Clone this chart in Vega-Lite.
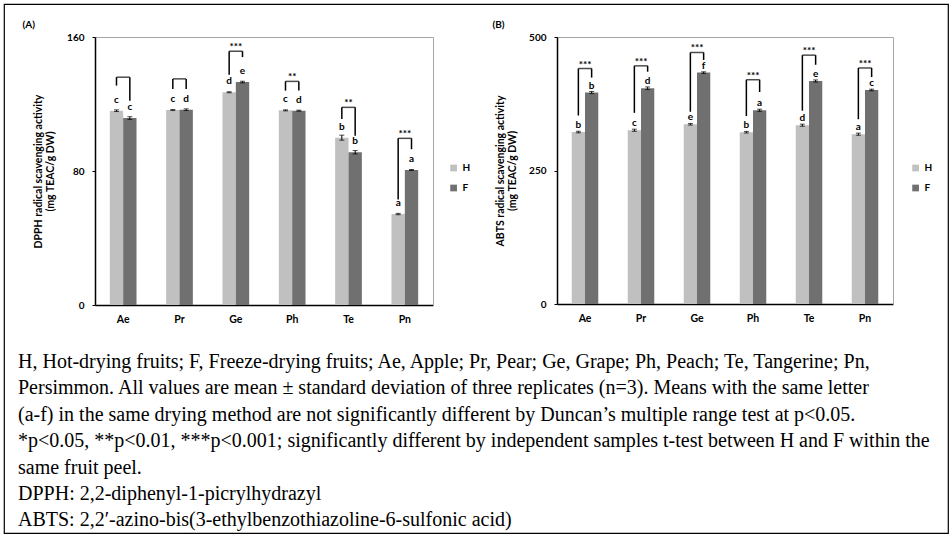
{
  "$schema": "https://vega.github.io/schema/vega-lite/v6.json",
  "width": 944,
  "height": 529,
  "autosize": {"type": "none"},
  "padding": {"left": 4, "top": 4, "right": 4, "bottom": 6},
  "background": "white",
  "view": {"stroke": "black", "strokeWidth": 1.2},
  "config": {
    "font": "Lato",
    "axis": {"labelFont": "Lato", "titleFont": "Lato", "labelFontWeight": "bold", "titleFontWeight": "bold", "labelColor": "black", "titleColor": "black", "grid": false},
    "legend": {"labelFont": "Lato"}
  },
  "title": {
    "text": [
      "H, Hot-drying fruits; F, Freeze-drying fruits; Ae, Apple; Pr, Pear; Ge, Grape; Ph, Peach; Te, Tangerine; Pn,",
      "Persimmon. All values are mean ± standard deviation of three replicates (n=3). Means with the same letter",
      "(a-f) in the same drying method are not significantly different by Duncan’s multiple range test at p<0.05.",
      "*p<0.05, **p<0.01, ***p<0.001; significantly different by independent samples t-test between H and F within the",
      "same fruit peel.",
      "DPPH: 2,2-diphenyl-1-picrylhydrazyl",
      "ABTS: 2,2′-azino-bis(3-ethylbenzothiazoline-6-sulfonic acid)"
    ],
    "orient": "bottom",
    "anchor": "start",
    "frame": "group",
    "offset": -181,
    "dx": 14,
    "baseline": "top",
    "align": "left",
    "font": "Liberation Serif",
    "fontSize": 20,
    "fontWeight": "normal",
    "color": "black",
    "lineHeight": 26.4
  },
  "datasets": {
    "dpph": [
      {"fruit": "Ae", "group": "H", "mean": 116.0, "sd": 0.5, "letter": "c", "legLow": 131, "top": 136, "stars": ""},
      {"fruit": "Ae", "group": "F", "mean": 111.6, "sd": 0.8, "letter": "c", "legLow": 122, "top": 136, "stars": ""},
      {"fruit": "Pr", "group": "H", "mean": 116.4, "sd": 0.3, "letter": "c", "legLow": 129, "top": 135, "stars": ""},
      {"fruit": "Pr", "group": "F", "mean": 116.6, "sd": 0.5, "letter": "d", "legLow": 129, "top": 135, "stars": ""},
      {"fruit": "Ge", "group": "H", "mean": 127.0, "sd": 0.3, "letter": "d", "legLow": 137.5, "top": 151.5, "stars": "***"},
      {"fruit": "Ge", "group": "F", "mean": 133.1, "sd": 0.5, "letter": "e", "legLow": 148, "top": 151.5, "stars": "***"},
      {"fruit": "Ph", "group": "H", "mean": 116.2, "sd": 0.3, "letter": "c", "legLow": 128, "top": 133.5, "stars": "**"},
      {"fruit": "Ph", "group": "F", "mean": 116.0, "sd": 0.3, "letter": "d", "legLow": 128, "top": 133.5, "stars": "**"},
      {"fruit": "Te", "group": "H", "mean": 99.9, "sd": 1.5, "letter": "b", "legLow": 111, "top": 118, "stars": "**"},
      {"fruit": "Te", "group": "F", "mean": 91.2, "sd": 1.0, "letter": "b", "legLow": 101, "top": 118, "stars": "**"},
      {"fruit": "Pn", "group": "H", "mean": 54.3, "sd": 0.4, "letter": "a", "legLow": 63, "top": 99.5, "stars": "***"},
      {"fruit": "Pn", "group": "F", "mean": 80.6, "sd": 0.3, "letter": "a", "legLow": 93, "top": 99.5, "stars": "***"}
    ],
    "abts": [
      {"fruit": "Ae", "group": "H", "mean": 322, "sd": 1.5, "letter": "b", "legLow": 353, "top": 441, "stars": "***"},
      {"fruit": "Ae", "group": "F", "mean": 396, "sd": 2, "letter": "b", "legLow": 424, "top": 441, "stars": "***"},
      {"fruit": "Pr", "group": "H", "mean": 325.4, "sd": 2, "letter": "c", "legLow": 358, "top": 446, "stars": "***"},
      {"fruit": "Pr", "group": "F", "mean": 404, "sd": 2.5, "letter": "d", "legLow": 435, "top": 446, "stars": "***"},
      {"fruit": "Ge", "group": "H", "mean": 336.6, "sd": 1.5, "letter": "e", "legLow": 360, "top": 471, "stars": "***"},
      {"fruit": "Ge", "group": "F", "mean": 433.3, "sd": 1.5, "letter": "f", "legLow": 457, "top": 471, "stars": "***"},
      {"fruit": "Ph", "group": "H", "mean": 321.7, "sd": 1.5, "letter": "b", "legLow": 352, "top": 420, "stars": "***"},
      {"fruit": "Ph", "group": "F", "mean": 362.8, "sd": 2, "letter": "a", "legLow": 397, "top": 420, "stars": "***"},
      {"fruit": "Te", "group": "H", "mean": 334.8, "sd": 2, "letter": "d", "legLow": 362, "top": 466, "stars": "***"},
      {"fruit": "Te", "group": "F", "mean": 417.6, "sd": 2, "letter": "e", "legLow": 448, "top": 466, "stars": "***"},
      {"fruit": "Pn", "group": "H", "mean": 318, "sd": 2, "letter": "a", "legLow": 346, "top": 442, "stars": "***"},
      {"fruit": "Pn", "group": "F", "mean": 400.8, "sd": 1.5, "letter": "c", "legLow": 425, "top": 442, "stars": "***"}
    ]
  },
  "layer": [
    {
      "data": {"name": "dpph"},
      "layer": [
        {
          "mark": {"type": "bar"},
          "encoding": {
            "x": {"field": "fruit", "type": "nominal", "sort": ["Ae", "Pr", "Ge", "Ph", "Te", "Pn"], "scale": {"type": "band", "range": [91, 429], "paddingInner": 0.526, "paddingOuter": 0.263}, "axis": {"orient": "bottom", "offset": -228, "title": null, "labelAngle": 0, "ticks": false, "labelPadding": 9, "labelFontSize": 10.5, "domainColor": "black", "domainWidth": 1.5}},
            "xOffset": {"field": "group", "type": "nominal", "sort": ["H", "F"], "scale": {"paddingInner": 0, "paddingOuter": 0}},
            "y": {"field": "mean", "type": "quantitative", "scale": {"domain": [0, 160], "nice": false, "range": [301, 33]}, "axis": {"orient": "left", "offset": -91, "title": ["DPPH radical scavenging activity", "(mg  TEAC/g DW)"], "values": [0, 80, 160], "tickSize": 3, "tickColor": "black", "labelPadding": 8, "labelFontSize": 10, "titleFontSize": 10.5, "titlePadding": 11, "titleLineHeight": 12.5, "domainColor": "black", "domainWidth": 1.5}},
            "color": {"field": "group", "type": "nominal", "scale": {"domain": ["H", "F"], "range": ["#c0c0c0", "#707070"]}, "legend": {"title": null, "orient": "none", "legendX": 444.6, "legendY": 159, "symbolType": "square", "symbolSize": 45, "symbolStrokeWidth": 0, "labelFontSize": 10, "labelFontWeight": "bold", "labelColor": "black", "labelOffset": 4, "rowPadding": 10, "padding": 0}}
          }
        },
        {
          "mark": {"type": "errorbar", "ticks": {"size": 5}, "color": "black"},
          "encoding": {
            "x": {"field": "fruit", "type": "nominal", "sort": ["Ae", "Pr", "Ge", "Ph", "Te", "Pn"], "axis": null},
            "xOffset": {"field": "group", "type": "nominal", "sort": ["H", "F"]},
            "y": {"field": "mean", "type": "quantitative", "axis": null},
            "yError": {"field": "sd"}
          }
        },
        {
          "mark": {"type": "text", "dy": -8, "baseline": "alphabetic", "fontSize": 10, "fontWeight": "bold", "font": "Lato", "color": "black"},
          "encoding": {
            "x": {"field": "fruit", "type": "nominal", "sort": ["Ae", "Pr", "Ge", "Ph", "Te", "Pn"], "axis": null},
            "xOffset": {"field": "group", "type": "nominal", "sort": ["H", "F"]},
            "y": {"field": "mean", "type": "quantitative", "axis": null},
            "text": {"field": "letter"}
          }
        },
        {
          "mark": {"type": "rule", "strokeWidth": 1.5, "color": "black"},
          "encoding": {
            "x": {"field": "fruit", "type": "nominal", "sort": ["Ae", "Pr", "Ge", "Ph", "Te", "Pn"], "axis": null},
            "xOffset": {"field": "group", "type": "nominal", "sort": ["H", "F"]},
            "y": {"field": "legLow", "type": "quantitative", "axis": null},
            "y2": {"field": "top"}
          }
        },
        {
          "transform": [{"filter": "datum.group === 'H'"}],
          "mark": {"type": "tick", "orient": "horizontal", "size": 13.3, "thickness": 1.5, "color": "black"},
          "encoding": {
            "x": {"field": "fruit", "type": "nominal", "sort": ["Ae", "Pr", "Ge", "Ph", "Te", "Pn"], "axis": {"orient": "top", "offset": -33, "labels": false, "ticks": false, "domainColor": "#a6a6a6", "domainWidth": 1, "title": "(A)", "titleX": 18, "titleY": -13, "titleAlign": "left", "titleAngle": 0, "titleBaseline": "middle", "titleFontSize": 10}},
            "y": {"field": "top", "type": "quantitative", "axis": {"orient": "right", "offset": -515, "labels": false, "ticks": false, "domainColor": "#a6a6a6", "domainWidth": 1, "title": null}}
          }
        },
        {
          "transform": [{"filter": "datum.group === 'H'"}],
          "mark": {"type": "text", "baseline": "alphabetic", "dy": -1, "fontSize": 10, "fontWeight": "bold", "font": "Lato", "color": "black"},
          "encoding": {
            "x": {"field": "fruit", "type": "nominal", "sort": ["Ae", "Pr", "Ge", "Ph", "Te", "Pn"], "axis": null},
            "y": {"field": "top", "type": "quantitative", "axis": null},
            "text": {"field": "stars"}
          }
        }
      ],
      "resolve": {"axis": {"x": "independent", "y": "independent"}}
    },
    {
      "data": {"name": "abts"},
      "layer": [
        {
          "mark": {"type": "bar"},
          "encoding": {
            "x": {"field": "fruit", "type": "nominal", "sort": ["Ae", "Pr", "Ge", "Ph", "Te", "Pn"], "scale": {"type": "band", "range": [553, 889], "paddingInner": 0.526, "paddingOuter": 0.263}, "axis": {"orient": "bottom", "offset": -229, "title": null, "labelAngle": 0, "ticks": false, "labelPadding": 9, "labelFontSize": 10.5, "domainColor": "black", "domainWidth": 1.5}},
            "xOffset": {"field": "group", "type": "nominal", "sort": ["H", "F"], "scale": {"paddingInner": 0, "paddingOuter": 0}},
            "y": {"field": "mean", "type": "quantitative", "scale": {"domain": [0, 500], "nice": false, "range": [300, 33]}, "axis": {"orient": "left", "offset": -553, "title": ["ABTS radical scavenging activity", "(mg  TEAC/g DW)"], "values": [0, 250, 500], "tickSize": 3, "tickColor": "black", "labelPadding": 8, "labelFontSize": 10, "titleFontSize": 10.5, "titlePadding": 11, "titleLineHeight": 12.5, "domainColor": "black", "domainWidth": 1.5}},
            "color": {"field": "group", "type": "nominal", "scale": {"domain": ["H", "F"], "range": ["#c0c0c0", "#707070"]}, "legend": {"title": null, "orient": "none", "legendX": 906.6, "legendY": 159, "symbolType": "square", "symbolSize": 45, "symbolStrokeWidth": 0, "labelFontSize": 10, "labelFontWeight": "bold", "labelColor": "black", "labelOffset": 4, "rowPadding": 10, "padding": 0}}
          }
        },
        {
          "mark": {"type": "errorbar", "ticks": {"size": 5}, "color": "black"},
          "encoding": {
            "x": {"field": "fruit", "type": "nominal", "sort": ["Ae", "Pr", "Ge", "Ph", "Te", "Pn"], "axis": null},
            "xOffset": {"field": "group", "type": "nominal", "sort": ["H", "F"]},
            "y": {"field": "mean", "type": "quantitative", "axis": null},
            "yError": {"field": "sd"}
          }
        },
        {
          "mark": {"type": "text", "dy": -4, "baseline": "alphabetic", "fontSize": 10, "fontWeight": "bold", "font": "Lato", "color": "black"},
          "encoding": {
            "x": {"field": "fruit", "type": "nominal", "sort": ["Ae", "Pr", "Ge", "Ph", "Te", "Pn"], "axis": null},
            "xOffset": {"field": "group", "type": "nominal", "sort": ["H", "F"]},
            "y": {"field": "mean", "type": "quantitative", "axis": null},
            "text": {"field": "letter"}
          }
        },
        {
          "mark": {"type": "rule", "strokeWidth": 1.5, "color": "black"},
          "encoding": {
            "x": {"field": "fruit", "type": "nominal", "sort": ["Ae", "Pr", "Ge", "Ph", "Te", "Pn"], "axis": null},
            "xOffset": {"field": "group", "type": "nominal", "sort": ["H", "F"]},
            "y": {"field": "legLow", "type": "quantitative", "axis": null},
            "y2": {"field": "top"}
          }
        },
        {
          "transform": [{"filter": "datum.group === 'H'"}],
          "mark": {"type": "tick", "orient": "horizontal", "size": 13.3, "thickness": 1.5, "color": "black"},
          "encoding": {
            "x": {"field": "fruit", "type": "nominal", "sort": ["Ae", "Pr", "Ge", "Ph", "Te", "Pn"], "axis": {"orient": "top", "offset": -33, "labels": false, "ticks": false, "domainColor": "#a6a6a6", "domainWidth": 1, "title": "(B)", "titleX": 488, "titleY": -13, "titleAlign": "left", "titleAngle": 0, "titleBaseline": "middle", "titleFontSize": 10}},
            "y": {"field": "top", "type": "quantitative", "axis": {"orient": "right", "offset": -55, "labels": false, "ticks": false, "domainColor": "#a6a6a6", "domainWidth": 1, "title": null}}
          }
        },
        {
          "transform": [{"filter": "datum.group === 'H'"}],
          "mark": {"type": "text", "baseline": "alphabetic", "dy": -1, "fontSize": 10, "fontWeight": "bold", "font": "Lato", "color": "black"},
          "encoding": {
            "x": {"field": "fruit", "type": "nominal", "sort": ["Ae", "Pr", "Ge", "Ph", "Te", "Pn"], "axis": null},
            "y": {"field": "top", "type": "quantitative", "axis": null},
            "text": {"field": "stars"}
          }
        }
      ],
      "resolve": {"axis": {"x": "independent", "y": "independent"}}
    }
  ],
  "resolve": {
    "scale": {"x": "independent", "y": "independent", "xOffset": "independent", "color": "independent"},
    "axis": {"x": "independent", "y": "independent"},
    "legend": {"color": "independent"}
  }
}
